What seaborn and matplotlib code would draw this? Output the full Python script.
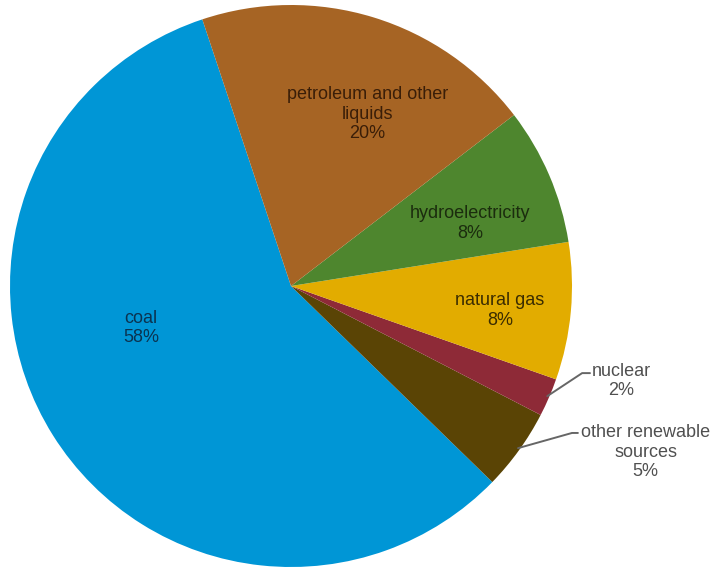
import seaborn as sns
from matplotlib import pyplot as plt

sns.set_theme(style="white")
plt.rcParams['font.family'] = ['Liberation Sans', 'DejaVu Sans']

# counterclockwise order, starting from the coal/petroleum edge
sources = ['coal', 'other renewable\nsources', 'nuclear', 'natural gas',
           'hydroelectricity', 'petroleum and other\nliquids']
shares = [57.6, 4.7, 2.2, 7.9, 7.9, 19.7]
pct_labels = ['58%', '5%', '2%', '8%', '8%', '20%']
colors = ['#0096d6', '#5a4405', '#8e2a37', '#e2ac00', '#4e862e', '#a66424']

fig = plt.figure(figsize=(7.14, 5.67), dpi=100)
ax = fig.add_axes([10 / 714, 0.0, 562 / 714, 562 / 567])
wedges, _ = ax.pie(shares, colors=colors, startangle=108.4, counterclock=True,
                   radius=1, wedgeprops=dict(linewidth=0))
ax.set_xlim(-1, 1)
ax.set_ylim(-1, 1)
ax.set_aspect('equal')
ax.axis('off')

# label positions in pie units (radius = 1)
inside = {
    0: ((-0.534, -0.150), '#0b3350'),
    3: ((0.744, -0.088), '#3a2c00'),
    4: ((0.637, 0.222), '#1b2c0e'),
    5: ((0.272, 0.612), '#3a1e08'),
}
for i, (pos, c) in inside.items():
    ax.text(pos[0], pos[1], f'{sources[i]}\n{pct_labels[i]}', ha='center', va='center',
            fontsize=13, color=c, linespacing=1.2)

outside = {
    2: ((1.175, -0.338), [(0.912, -0.392), (1.036, -0.310), (1.064, -0.310)]),
    1: ((1.262, -0.591), [(0.808, -0.577), (1.000, -0.523), (1.021, -0.523)]),
}
for i, (pos, pts) in outside.items():
    xs, ys = zip(*pts)
    ax.plot(xs, ys, color='#666666', lw=1.4, clip_on=False)
    ax.text(pos[0], pos[1], f'{sources[i]}\n{pct_labels[i]}', ha='center', va='center',
            fontsize=13, color='#505050', linespacing=1.2)

fig.savefig('out.png', dpi=100, facecolor='white')
